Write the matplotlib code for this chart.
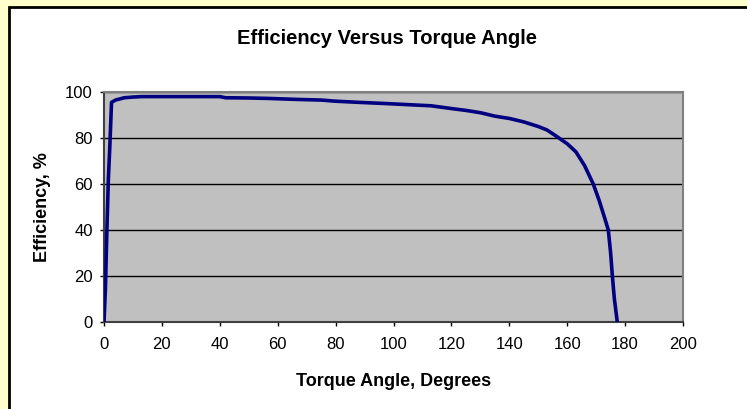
import matplotlib.pyplot as plt
from matplotlib.patches import Rectangle

# torque angle (degrees) and efficiency (%)
angle = [0, 0.5, 1, 1.5, 2, 2.6, 4, 7, 10, 13, 20, 30, 40, 42, 50, 57, 66, 75,
         80, 88, 97, 105, 113, 120, 125, 130, 135, 140, 145, 150, 153, 156,
         160, 163, 166, 169, 171, 173, 174.2, 175, 175.6, 176.3, 176.8, 177.3]
efficiency = [0, 15, 40, 62, 76, 95.5, 96.5, 97.5, 97.8, 98, 98, 98, 98, 97.5,
              97.4, 97.2, 96.8, 96.5, 96, 95.5, 95, 94.5, 94, 92.8, 92, 91,
              89.5, 88.5, 87, 85, 83.5, 81, 77.5, 74, 68, 60, 53, 45, 40, 30,
              20, 10, 5, 0]

x_ticks = list(range(0, 201, 20))
y_ticks = list(range(0, 101, 20))

fig = plt.figure(figsize=(7.47, 4.09), dpi=100)
fig.patch.set_facecolor('#FFFFCC')
plt.rcParams['font.family'] = ['Liberation Sans', 'DejaVu Sans']

# white chart area with black frame
W, H = 747, 409
fig.add_artist(Rectangle((9 / W, -0.05), 1.1, 1 - 7 / H + 0.05,
                         transform=fig.transFigure, facecolor='white',
                         edgecolor='black', linewidth=2, zorder=-1))

ax = fig.add_axes([104 / W, 87 / H, 579 / W, 230 / H])
ax.set_zorder(1)
ax.set_facecolor('#C0C0C0')
ax.plot(angle, efficiency, color='#000080', linewidth=2.6, zorder=3)

ax.set_xlim(0, 200)
ax.set_ylim(0, 100)
ax.set_xticks(x_ticks)
ax.set_yticks(y_ticks)
ax.yaxis.grid(True, color='black', linewidth=1)
ax.set_axisbelow(True)
ax.tick_params(direction='out', length=3, width=1, labelsize=12)
ax.tick_params(axis='x', pad=8)
ax.tick_params(axis='y', pad=5)
for side in ['top', 'right']:
    ax.spines[side].set_color('#808080')
    ax.spines[side].set_linewidth(1.5)
for side in ['left', 'bottom']:
    ax.spines[side].set_color('#404040')
    ax.spines[side].set_linewidth(1.5)

fig.text(387 / W, 1 - 38 / H, 'Efficiency Versus Torque Angle',
         fontsize=14.5, fontweight='bold', ha='center', va='center')
ax.set_xlabel('Torque Angle, Degrees', fontsize=13, fontweight='bold', va='center')
ax.xaxis.set_label_coords(0.5, (322 - 381) / 230)
ax.set_ylabel('Efficiency, %', fontsize=13, fontweight='bold', va='center')
ax.yaxis.set_label_coords((42 - 104) / 579, 0.5)

plt.savefig('out.png', dpi=100, facecolor=fig.get_facecolor())
